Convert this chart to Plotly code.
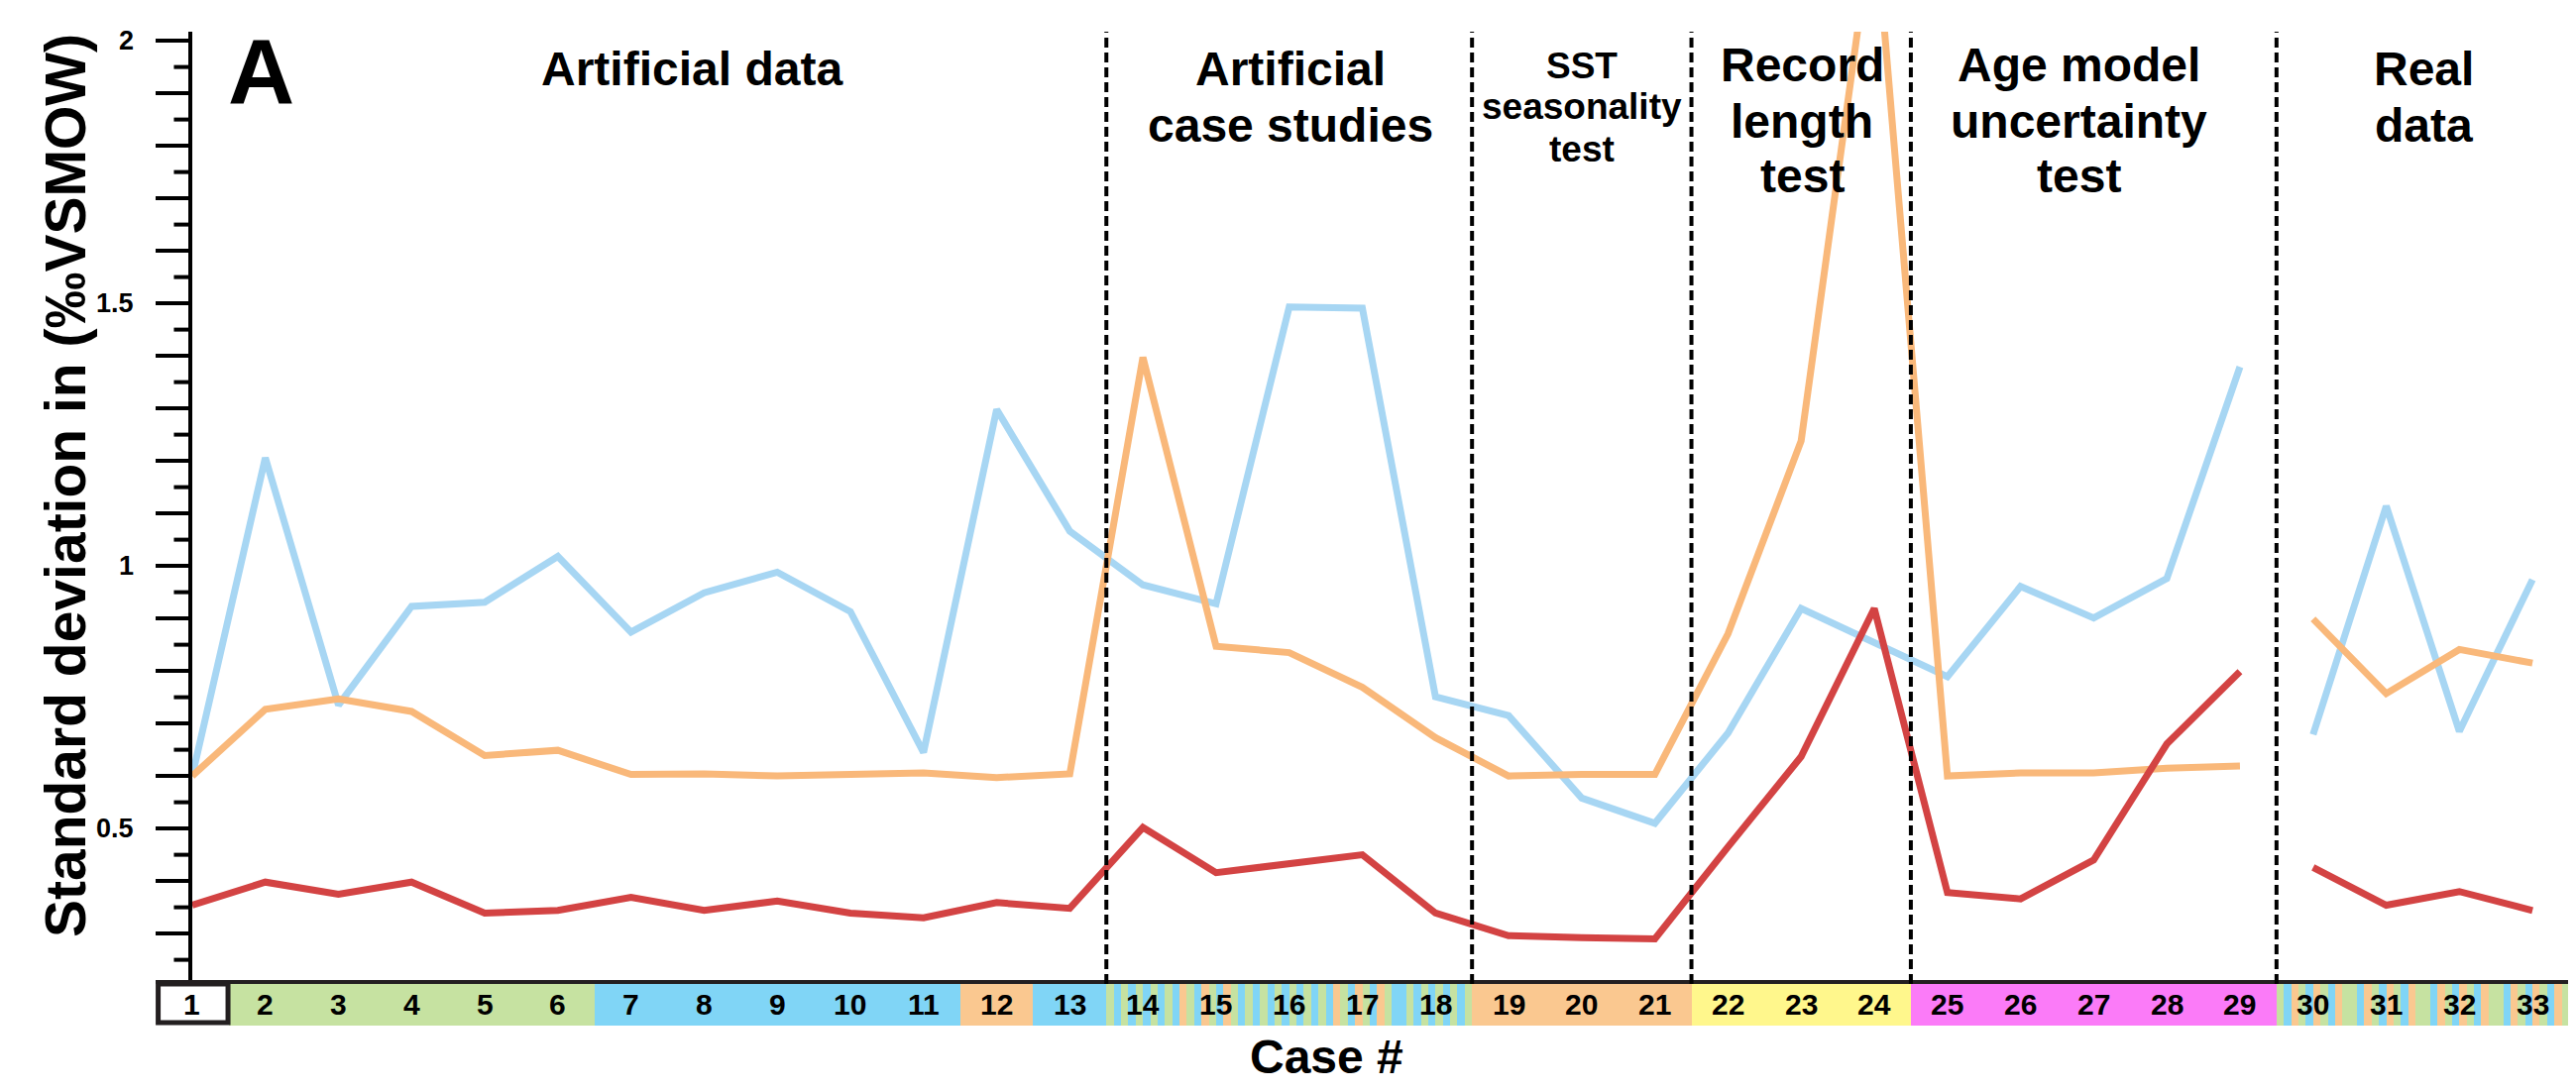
import plotly.graph_objects as go

# ---------------- data ----------------
cases = list(range(1, 34))
case_labels = [str(c) for c in cases]

sd_blue = [0.600, 1.206, 0.735, 0.923, 0.931, 1.018, 0.874, 0.949, 0.988, 0.913, 0.645,
           1.298, 1.066, 0.964, 0.928, 1.493, 1.491, 0.751, 0.715, 0.558, 0.510,
           0.682, 0.919, 0.855, 0.789, 0.961, 0.901, 0.976, 1.379,
           0.679, 1.114, 0.685, 0.974]
sd_orange = [0.600, 0.727, 0.747, 0.723, 0.639, 0.649, 0.603, 0.604, 0.600, 0.604, 0.606,
             0.597, 0.604, 1.397, 0.847, 0.835, 0.769, 0.673, 0.600, 0.603, 0.603,
             0.871, 1.238, 2.25, 0.600, 0.606, 0.606, 0.615, 0.619,
             0.899, 0.757, 0.841, 0.815]
sd_red = [0.354, 0.398, 0.375, 0.398, 0.339, 0.344, 0.369, 0.344, 0.362, 0.339, 0.330,
          0.359, 0.348, 0.502, 0.416, 0.432, 0.450, 0.339, 0.296, 0.292, 0.290,
          0.465, 0.637, 0.919, 0.378, 0.366, 0.440, 0.661, 0.799,
          0.426, 0.354, 0.380, 0.344]

# line segments (real data drawn separately)
segments = [(1, 29), (30, 33)]

# section boundaries
section_bounds = [13.5, 18.5, 21.5, 24.5, 29.5]

# strip categories per case
case_group = (["none"] + ["G"] * 5 + ["B"] * 5 + ["O"] + ["B"]
              + ["S14", "S15", "S16", "S17", "S18"] + ["O"] * 3 + ["Y"] * 3 + ["M"] * 5
              + ["R"] * 4)
stripe_patterns = {"S14": "GBGBGBGBGB", "S15": "OGBOGBOGBG", "S16": "BGBGBGBGBG",
                   "S17": "BOGBOGBOGB", "S18": "BGBGBGBGBG", "R": "GBOGBOGBOG"}

# y ticks
tick_labels = {0.5: "0.5", 1.0: "1", 1.5: "1.5", 2.0: "2"}
long_ticks = [round(0.3 + 0.1 * i, 2) for i in range(18)]
short_ticks = [round(0.25 + 0.1 * i, 2) for i in range(18)]

# ---------------- styles ----------------
FONT = "Liberation Sans"
strip_colors = {"G": "#c6e2a1", "B": "#80d5f6", "O": "#fac890", "Y": "#fff78c", "M": "#fb7bf8",
                "W": "#ffffff"}
line_colors = {"blue": "#a7d6f3", "orange": "#f9b87a", "red": "#d34343"}

W, H = 2599, 1101
L, R, T, B = 149, 15, 24, 74
PW, PH = W - L - R, H - T - B
X_LO, X_HI = 0.5, 33.5
AXIS_PX, STRIP_BOTTOM_PX = 985, 1027
Y_LO = 0.204
Y_HI = Y_LO + (AXIS_PX - T) / 530.0
strip_frac = (STRIP_BOTTOM_PX - AXIS_PX) / PH


def px2paper_x(px):
    return (px - L) / PW


def px2paper_y(py):
    return 1 - (py - T) / PH


data_domain_start = (1 - X_LO) / (X_HI - X_LO)

fig = go.Figure()

for name, vals in [("blue", sd_blue), ("orange", sd_orange), ("red", sd_red)]:
    for a, b in segments:
        fig.add_trace(go.Scatter(x=cases[a - 1:b], y=vals[a - 1:b], mode="lines",
                                 line=dict(color=line_colors[name], width=7),
                                 showlegend=False, hoverinfo="skip",
                                 xaxis="x", yaxis="y"))

# y-axis tick ladder drawn on a narrow subplot left of the axis (shares the y scale)
tick_x, tick_y = [], []
for v in long_ticks:
    tick_x += [0, 1, None]
    tick_y += [v, v, None]
for v in short_ticks:
    tick_x += [0.5, 1, None]
    tick_y += [v, v, None]
fig.add_trace(go.Scatter(x=tick_x, y=tick_y, mode="lines", line=dict(color="black", width=4),
                         xaxis="x3", yaxis="y", cliponaxis=False, connectgaps=False,
                         showlegend=False, hoverinfo="skip"))

# case strip as bars on its own subplot
stripe_x, stripe_w, stripe_c = [], [], []
for c, g in zip(cases, case_group):
    pat = stripe_patterns.get(g, "W" if g == "none" else g)
    n = len(pat)
    for i, ch in enumerate(pat):
        stripe_x.append(c - 0.5 + (i + 0.5) / n)
        stripe_w.append(1.0 / n)
        stripe_c.append(strip_colors[ch])
fig.add_trace(go.Bar(x=stripe_x, y=[1] * len(stripe_x), width=stripe_w, base=0,
                     marker=dict(color=stripe_c, line=dict(width=0)),
                     xaxis="x2", yaxis="y2", showlegend=False, hoverinfo="skip"))

shapes = []
# case 1 white box
shapes.append(dict(type="rect", xref="x2", yref="y2", x0=0.535, x1=1.49, y0=0.07, y1=1.0,
                   fillcolor="white", line=dict(color="#231f20", width=5), layer="above"))
# dashed separators
for xb in section_bounds:
    shapes.append(dict(type="line", xref="x", yref="y", x0=xb, x1=xb, y0=Y_LO, y1=Y_HI,
                       line=dict(color="black", width=4, dash="10px,5px"), layer="above"))

annotations = []
# y tick labels
for v, lab in tick_labels.items():
    annotations.append(dict(x=0, y=v, xref="x3", yref="y", xshift=-20,
                            text=lab, showarrow=False, xanchor="right", yanchor="middle",
                            font=dict(family=FONT, size=27, color="black", weight="bold")))
# case numbers
for c, lab in zip(cases, case_labels):
    annotations.append(dict(x=c, y=0.5, xref="x2", yref="y2", text=lab,
                            showarrow=False, xanchor="center", yanchor="middle",
                            font=dict(family=FONT, size=30, color="black", weight="bold")))

section_lines = [
    # (text, center x px, y px, size)
    ("Artificial data", 690, 62, 48),
    ("Artificial", 1294, 62, 48),
    ("case studies", 1294, 118, 48),
    ("SST", 1588, 58, 37),
    ("seasonality", 1588, 100, 37),
    ("test", 1588, 142, 37),
    ("Record", 1810, 57, 48),
    ("length", 1810, 114, 48),
    ("test", 1810, 169, 48),
    ("Age model", 2089, 57, 48),
    ("uncertainty", 2089, 114, 48),
    ("test", 2089, 169, 48),
    ("Real", 2437, 62, 48),
    ("data", 2437, 118, 48),
]
for txt, cx, cy, sz in section_lines:
    annotations.append(dict(x=px2paper_x(cx), y=px2paper_y(cy), xref="paper", yref="paper",
                            text=txt, showarrow=False, xanchor="center", yanchor="middle",
                            font=dict(family=FONT, size=sz, color="black", weight="bold")))

annotations.append(dict(x=px2paper_x(255), y=px2paper_y(64), xref="paper", yref="paper",
                        text="A", showarrow=False, xanchor="center", yanchor="middle",
                        font=dict(family=FONT, size=93, color="black", weight="bold")))
annotations.append(dict(x=px2paper_x(1330), y=px2paper_y(1058), xref="paper", yref="paper",
                        text="Case #", showarrow=False, xanchor="center", yanchor="middle",
                        font=dict(family=FONT, size=48, color="black", weight="bold")))
annotations.append(dict(x=px2paper_x(58), y=px2paper_y(482), xref="paper", yref="paper",
                        text="Standard deviation in (‰VSMOW)", textangle=-90, showarrow=False,
                        xanchor="center", yanchor="middle",
                        font=dict(family=FONT, size=57, color="black", weight="bold")))

fig.update_layout(
    width=W, height=H,
    margin=dict(l=L, r=R, t=T, b=B, pad=0),
    paper_bgcolor="white", plot_bgcolor="rgba(0,0,0,0)",
    showlegend=False, bargap=0,
    shapes=shapes, annotations=annotations,
    xaxis=dict(domain=[data_domain_start, 1], range=[1, X_HI], anchor="y",
               showgrid=False, zeroline=False, showticklabels=False, ticks="", showline=False),
    yaxis=dict(domain=[strip_frac, 1], range=[Y_LO, Y_HI], anchor="x", side="left",
               showgrid=False, zeroline=False, showline=True, linecolor="black", linewidth=4,
               showticklabels=False, ticks=""),
    xaxis3=dict(domain=[0, data_domain_start], range=[0, 1], anchor="y",
                showgrid=False, zeroline=False, showticklabels=False, ticks="", showline=False),
    xaxis2=dict(domain=[0, 1], range=[X_LO, X_HI], anchor="y2", side="top",
                showgrid=False, zeroline=False, showticklabels=False, ticks="",
                showline=True, linecolor="#231f20", linewidth=4),
    yaxis2=dict(domain=[0, strip_frac], range=[0, 1], anchor="x2",
                showgrid=False, zeroline=False, showticklabels=False, ticks="", showline=False),
)

fig.write_html("out.html")
